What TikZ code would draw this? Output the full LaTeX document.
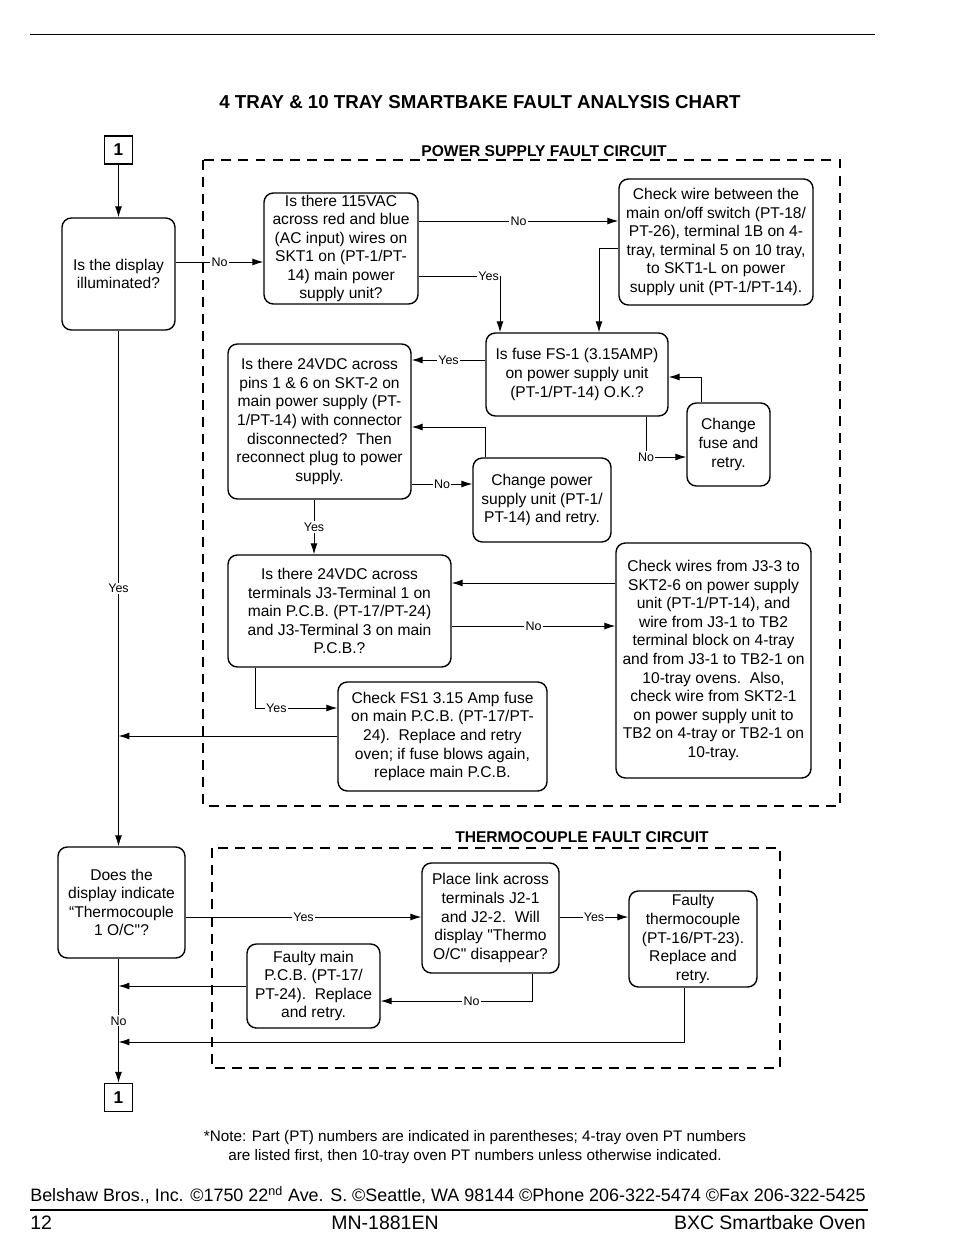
\documentclass[tikz,border=0pt]{standalone}
\usepackage{fontspec}
\setmainfont{Liberation Sans}
\usetikzlibrary{arrows.meta}
\newcommand{\pxu}{0.6415pt}

\begin{document}
\begin{tikzpicture}[x=\pxu, y=-\pxu,
    box/.style={draw, line width=0.9pt, rounded corners=6pt, align=center, inner sep=0pt,
                font=\fontsize{10}{11.9}\selectfont},
    sized/.style 2 args={minimum width=#1*\pxu, minimum height=#2*\pxu},
    tag/.style={draw, line width=0.8pt, minimum size=28*\pxu, inner sep=0pt, font=\fontsize{11}{13}\selectfont\bfseries},
    zone/.style={line width=1.9pt, dash pattern=on 6.4pt off 4.6pt},
    ln/.style={line width=0.6pt},
    arr/.style={line width=0.6pt, -{Latex[length=7pt,width=4.5pt]}},
    lbl/.style={fill=white, inner sep=0.8pt, font=\fontsize{8}{9}\selectfont},
    head/.style={font=\fontsize{10}{12}\selectfont\bfseries}]

    \useasboundingbox (0,0) rectangle (954,1259);

    \draw[line width=0.6pt] (30,34) -- (875,34);
    \node[font=\fontsize{12}{14}\selectfont\bfseries] (title) at (480,102)
        {4 TRAY \& 10 TRAY SMARTBAKE FAULT ANALYSIS CHART};

    % dashed circuits
    \draw[zone] (203,160) rectangle (840,806);
    \node[head, fill=white, inner sep=1pt] (pshead) at (544,151) {POWER SUPPLY FAULT CIRCUIT};
    \draw[zone] (212,848) rectangle (780,1068);
    \node[head, fill=white, inner sep=1pt] (tchead) at (582,837) {THERMOCOUPLE FAULT CIRCUIT};

    \node[tag] (one) at (118.5,150) {1};
    \node[box, sized={113}{112}] (display) at (118.5,274) {Is the display\\illuminated?};

    \node[box, sized={154}{111}] (acin) at (341,248.5)
        {Is there 115VAC\\across red and blue\\(AC input) wires on\\SKT1 on (PT-1/PT-\\14) main power\\supply unit?};
    \node[box, sized={194}{126}] (wire) at (716,242)
        {Check wire between the\\main on/off switch (PT-18/\\PT-26), terminal 1B on 4-\\tray, terminal 5 on 10 tray,\\to SKT1-L on power\\supply unit (PT-1/PT-14).};
    \node[box, sized={182}{83}] (fuse) at (577,374.5)
        {Is fuse FS-1 (3.15AMP)\\on power supply unit\\(PT-1/PT-14) O.K.?};
    \node[box, sized={183}{155}] (skt) at (319.5,421.5)
        {Is there 24VDC across\\pins 1 \& 6 on SKT-2 on\\main power supply (PT-\\1/PT-14) with connector\\disconnected?\ \ Then\\reconnect plug to power\\supply.};
    \node[box, sized={138}{84}] (chps) at (542,500)
        {Change power\\supply unit (PT-1/\\PT-14) and retry.};
    \node[box, sized={83}{83}] (chfuse) at (728.5,444.5) {Change\\fuse and\\retry.};
    \node[box, sized={223}{112}] (j3) at (339.5,611)
        {Is there 24VDC across\\terminals J3-Terminal 1 on\\main P.C.B. (PT-17/PT-24)\\and J3-Terminal 3 on main\\P.C.B.?};
    \node[box, sized={195}{235}] (chwires) at (713.5,660.5)
        {Check wires from J3-3 to\\SKT2-6 on power supply\\unit (PT-1/PT-14), and\\wire from J3-1 to TB2\\terminal block on 4-tray\\and from J3-1 to TB2-1 on\\10-tray ovens.\ \ Also,\\check wire from SKT2-1\\on power supply unit to\\TB2 on 4-tray or TB2-1 on\\10-tray.};
    \node[box, sized={209}{109}] (fs1) at (442.5,736.5)
        {Check FS1 3.15 Amp fuse\\on main P.C.B. (PT-17/PT-\\24).\ \ Replace and retry\\oven; if fuse blows again,\\replace main P.C.B.};

    \node[box, sized={127}{111}] (thermo) at (121.5,902.5)
        {Does the\\display indicate\\“Thermocouple\\1 O/C\textquotedbl?};
    \node[box, sized={137}{110}] (plink) at (490.5,918)
        {Place link across\\terminals J2-1\\and J2-2.\ \ Will\\display \textquotedbl Thermo\\O/C\textquotedbl{} disappear?};
    \node[box, sized={128}{96}] (ftc) at (693,939)
        {Faulty\\thermocouple\\(PT-16/PT-23).\\Replace and\\retry.};
    \node[box, sized={133}{84}] (fmain) at (313.5,986)
        {Faulty main\\P.C.B. (PT-17/\\PT-24).\ \ Replace\\and retry.};
    \node[tag] (onebot) at (118.5,1097.5) {1};

    % power supply connectors
    \draw[arr] (one) -- (display);
    \draw[arr] (display.east |- 0,262) -- node[lbl]{No} (acin.west |- 0,262);
    \draw[arr] (acin.east |- 0,221) -- node[lbl]{No} (wire.west |- 0,221);
    \draw[arr] (acin.east |- 0,276) -| node[lbl, pos=0.43]{Yes} (fuse.north -| 500,0);
    \draw[arr] (wire.west |- 0,248) -| (fuse.north -| 599,0);
    \draw[arr] (fuse.west |- 0,360) -- node[lbl]{Yes} (skt.east |- 0,360);
    \draw[arr] (skt.east |- 0,484) -- node[lbl]{No} (chps.west |- 0,484);
    \draw[arr] (chps.north -| 485,0) |- (skt.east |- 0,427);
    \draw[arr] (fuse.south -| 646,0) |- node[lbl]{No} (chfuse.west |- 0,457);
    \draw[arr] (chfuse.north -| 701,0) |- (fuse.east |- 0,377);
    \draw[arr] (skt.south -| 314,0) -- node[lbl]{Yes} (j3.north -| 314,0);
    \draw[arr] (chwires.west |- 0,583) -- (j3.east |- 0,583);
    \draw[arr] (j3.east |- 0,626) -- node[lbl]{No} (chwires.west |- 0,626);
    \draw[arr] (j3.south -| 255,0) |- node[lbl, pos=0.63]{Yes} (fs1.west |- 0,708);
    \draw[arr] (fs1.west |- 0,736) -- (display.south |- 0,736);
    \draw[arr] (display.south) -- node[lbl]{Yes} (display.south |- thermo.north);

    % thermocouple connectors
    \draw[arr] (thermo.east |- 0,917) -- node[lbl]{Yes} (plink.west |- 0,917);
    \draw[arr] (plink.east |- 0,917) -- node[lbl]{Yes} (ftc.west |- 0,917);
    \draw[arr] (plink.south -| 532,0) |- node[lbl, pos=0.7]{No} (fmain.east |- 0,1001);
    \draw[arr] (fmain.west |- 0,986) -- (display.south |- 0,986);
    \draw[arr] (ftc.south -| 684,0) |- (display.south |- 0,1042);
    \draw[arr] (display.south |- thermo.south) -- node[lbl]{No} (onebot.north);

    % notes and footer
    \node[align=center, font=\fontsize{9.8}{12.2}\selectfont] (note) at (475,1147.5)
        {*Note: Part (PT) numbers are indicated in parentheses; 4-tray oven PT numbers\\are listed first, then 10-tray oven PT numbers unless otherwise indicated.};
    \node[anchor=west, inner sep=0pt, font=\fontsize{11.5}{13}\selectfont] (addr) at (30,1195)
        {Belshaw Bros., Inc. ©1750 22\textsuperscript{nd} Ave. S. ©Seattle, WA 98144 ©Phone 206-322-5474 ©Fax 206-322-5425};
    \draw[line width=1pt] (30,1210) -- (868,1210);
    \node[anchor=west, inner sep=0pt, font=\fontsize{12.5}{14}\selectfont] (page) at (30,1223) {12};
    \node[inner sep=0pt, font=\fontsize{12.5}{14}\selectfont] (docno) at (385,1223) {MN-1881EN};
    \node[anchor=east, inner sep=0pt, font=\fontsize{12.5}{14}\selectfont] (product) at (866,1223) {BXC Smartbake Oven};
\end{tikzpicture}
\end{document}
